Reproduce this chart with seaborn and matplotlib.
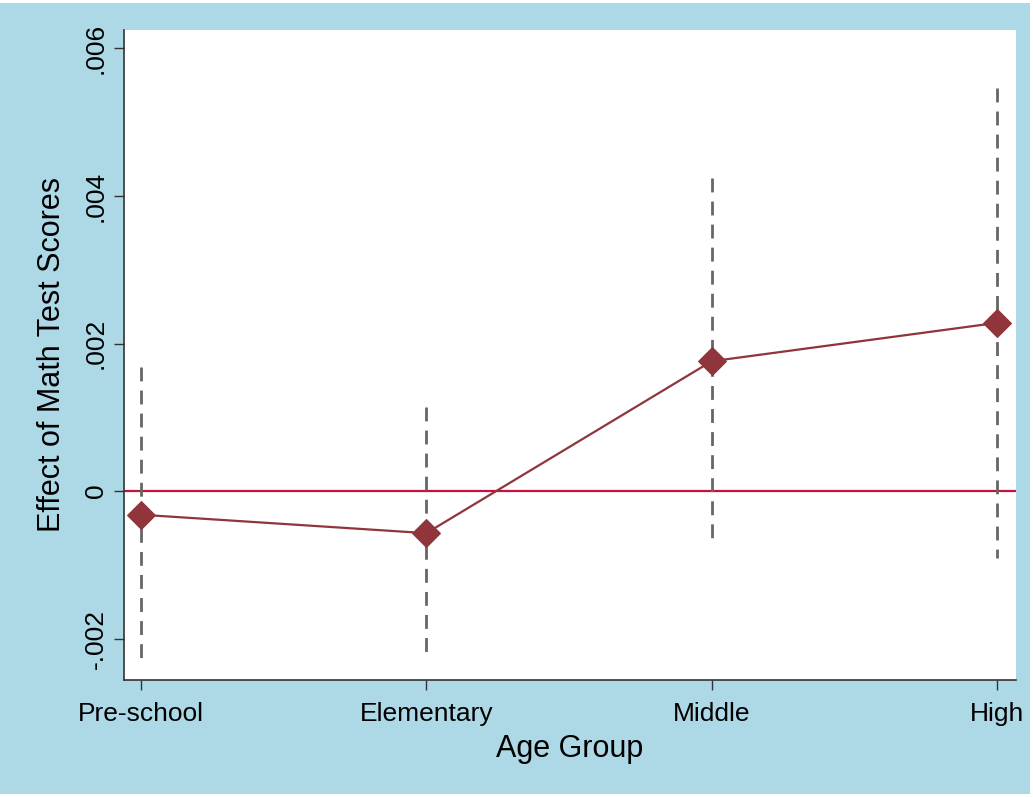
import matplotlib
matplotlib.use("Agg")
import matplotlib.pyplot as plt
from matplotlib.patches import Rectangle
import seaborn as sns
import pandas as pd

# Estimated effects by age group with 95% confidence bounds
age_groups = ["Pre-school", "Elementary", "Middle", "High"]
effect = [-0.00032, -0.00057, 0.00176, 0.00228]
ci_low = [-0.00233, -0.00229, -0.00073, -0.00091]
ci_high = [0.00168, 0.00114, 0.00424, 0.00547]

y_ticks = [-0.002, 0, 0.002, 0.004, 0.006]
y_tick_labels = ["-.002", "0", ".002", ".004", ".006"]

df = pd.DataFrame({"group": age_groups, "pos": range(len(age_groups)),
                   "effect": effect, "lo": ci_low, "hi": ci_high})

sns.set_style("white")
plt.rcParams["font.family"] = ["Liberation Sans", "DejaVu Sans"]

BG = "#ADD8E6"
MARK = "#90353B"
ZERO = "#C8103C"

fig = plt.figure(figsize=(10.33, 7.97), dpi=100, facecolor="white")
fig.patches.append(Rectangle((0, 0.004), 0.997, 0.992, transform=fig.transFigure,
                             facecolor=BG, edgecolor="none", zorder=-10))
ax = fig.add_axes([0.12, 0.1468, 0.8635, 0.8156])
ax.set_facecolor("white")

# confidence intervals, dashed from the upper bound downwards
ax.vlines(df["pos"], df["hi"], df["lo"], colors="#666666", linewidth=2.0,
          linestyles=(0, (5, 3.3)), zorder=2)
# zero reference line
ax.axhline(0, color=ZERO, linewidth=1.6, zorder=1)
# point estimates
sns.lineplot(data=df, x="pos", y="effect", ax=ax, color=MARK, linewidth=1.6,
             marker="D", markersize=14, markeredgecolor=MARK, zorder=3)

ax.set_xlim(-0.06, 3.067)
ax.set_ylim(-0.00256, 0.00625)
ax.set_xticks(range(len(age_groups)))
ax.set_xticklabels(age_groups)
ax.set_yticks(y_ticks)
ax.set_yticklabels(y_tick_labels, rotation=90, va="center")

ax.tick_params(axis="x", which="major", direction="out", length=7.5, width=1,
               color="#333333", labelsize=19, labelcolor="black", pad=8,
               bottom=True)
ax.tick_params(axis="y", which="major", direction="out", length=7.5, width=1,
               color="#333333", labelsize=19, labelcolor="black", pad=4,
               left=True)
for side in ["top", "right"]:
    ax.spines[side].set_visible(False)
for side in ["left", "bottom"]:
    ax.spines[side].set_color("#333333")
    ax.spines[side].set_linewidth(1.2)

ax.set_xlabel("Age Group", fontsize=22, labelpad=6, color="black")
ax.set_ylabel("Effect of Math Test Scores", fontsize=22, labelpad=12, color="black")

fig.savefig("out.png", dpi=100, facecolor=fig.get_facecolor())
